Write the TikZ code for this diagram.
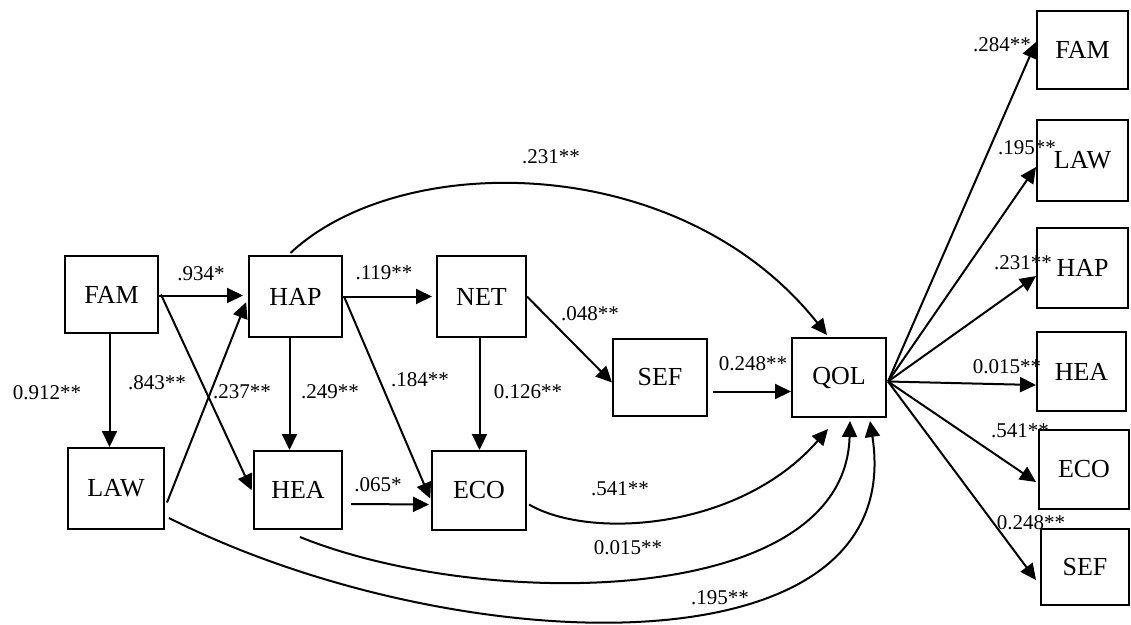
\documentclass[tikz,border=0pt]{standalone}
\usepackage{fontspec}
\setmainfont{Liberation Serif}
\usetikzlibrary{arrows.meta,calc}
\begin{document}
\begin{tikzpicture}[x=1pt,y=-1pt,
  box/.style={draw,line width=2pt,rectangle,inner sep=0pt,font=\fontsize{26}{30}\selectfont},
  lab/.style={inner sep=0pt,font=\fontsize{21}{24}\selectfont},
  arr/.style={line width=2pt,-{Triangle[length=16pt,width=15pt]}}]
\useasboundingbox (0,0) rectangle (1131,624);
% left nodes
\node[box,minimum width=93pt,minimum height=77pt] (FAM) at (111.5,294.5) {FAM};
\node[box,minimum width=93pt,minimum height=81pt] (HAP) at (295.5,296.5) {HAP};
\node[box,minimum width=89pt,minimum height=81pt] (NET) at (481.5,296.5) {NET};
\node[box,minimum width=96pt,minimum height=81pt] (LAW) at (116,488.5) {LAW};
\node[box,minimum width=88pt,minimum height=78pt] (HEA) at (298,490) {HEA};
\node[box,minimum width=94pt,minimum height=79pt] (ECO) at (479,490.5) {ECO};
\node[box,minimum width=94pt,minimum height=77pt] (SEF) at (660,377.5) {SEF};
\node[box,minimum width=94pt,minimum height=79pt] (QOL) at (839,377.5) {QOL};
% right nodes
\node[box,minimum width=91pt,minimum height=78pt] (FAM2) at (1082.5,50) {FAM};
\node[box,minimum width=91pt,minimum height=81pt] (LAW2) at (1082.5,160.5) {LAW};
\node[box,minimum width=91pt,minimum height=80pt] (HAP2) at (1082.5,268) {HAP};
\node[box,minimum width=89pt,minimum height=79pt] (HEA2) at (1081.5,371.5) {HEA};
\node[box,minimum width=90pt,minimum height=79pt] (ECO2) at (1084,469.5) {ECO};
\node[box,minimum width=88pt,minimum height=76pt] (SEF2) at (1085,567) {SEF};
% straight arrows
\draw[arr,shorten >=5pt] ([yshift=-1pt]FAM.east) -- ([yshift=-1pt]FAM.east -| HAP.west);
\draw[arr] ([xshift=-2pt]FAM.south) -- ([xshift=-2pt]FAM.south |- LAW.north);
\draw[arr,shorten >=3pt] ([xshift=2pt]FAM.east) -- ([yshift=-3pt]HEA.west);
\draw[arr,shorten >=5pt] ([xshift=2pt,yshift=-14pt]LAW.east) -- ([yshift=-1pt]HAP.west);
\draw[arr] ([xshift=-6pt]HAP.south) -- ([xshift=-6pt]HAP.south |- HEA.north);
\draw[arr,shorten >=2pt] ([xshift=1pt]HAP.east) -- ([yshift=-10pt]ECO.west);
\draw[arr,shorten >=2pt] ([xshift=8pt,yshift=-14pt]HEA.east) -- ([yshift=-14pt]ECO.west);
\draw[arr,shorten >=4pt] (HAP.east) -- (NET.west);
\draw[arr] ([xshift=-2pt]NET.south) -- ([xshift=-2pt]NET.south |- ECO.north);
\draw[arr] (NET.east) -- ([yshift=-5pt]SEF.west);
\draw[arr] ([xshift=5pt,yshift=-14pt]SEF.east) -- ([yshift=-14pt]QOL.west);
% curved arrows to QOL
\coordinate (hapS) at ([xshift=-5pt,yshift=2pt]HAP.north);
\coordinate (qolT) at ([xshift=-12pt,yshift=2pt]QOL.north);
\draw[arr] (hapS) .. controls (400,150) and (680,150) .. (qolT);
\coordinate (ecoS) at ([xshift=2pt,yshift=-14pt]ECO.east);
\coordinate (qolB1) at ([xshift=-11pt,yshift=-11pt]QOL.south);
\draw[arr] (ecoS) .. controls (590,540) and (740,530) .. (qolB1);
\coordinate (heaS) at ([xshift=2pt,yshift=-7pt]HEA.south);
\coordinate (qolB2) at ([xshift=11pt,yshift=-3pt]QOL.south);
\draw[arr] (heaS) .. controls (480,610) and (845,610) .. (qolB2);
\coordinate (lawS) at ([xshift=4pt,yshift=-29.5pt]LAW.east);
\coordinate (qolB3) at ([xshift=31pt,yshift=-3pt]QOL.south);
\draw[arr] (lawS) .. controls (450,660) and (910,680) .. (qolB3);
% fan to right column
\coordinate (o) at ([xshift=1pt,yshift=-4pt]QOL.east);
\draw[arr] (o) -- ([yshift=8pt]FAM2.west);
\draw[arr] (o) -- ([yshift=-6.5pt]LAW2.west);
\draw[arr] (o) -- ([yshift=-8pt]HAP2.west);
\draw[arr] (o) -- ([yshift=-13.5pt]HEA2.west);
\draw[arr] (o) -- ([xshift=-2pt,yshift=-12.5pt]ECO2.west);
\draw[arr] (o) -- ([xshift=-4pt,yshift=-13pt]SEF2.west);
% labels
\node[lab] (l1) at (201,274) {.934*};
\node[lab] (l2) at (47,393) {0.912**};
\node[lab] (l3) at (157,383) {.843**};
\node[lab] (l4) at (242,392) {.237**};
\node[lab] (l5) at (330,392) {.249**};
\node[lab] (l6) at (420,380) {.184**};
\node[lab] (l7) at (384,273) {.119**};
\node[lab] (l8) at (528,392) {0.126**};
\node[lab] (l9) at (590,314) {.048**};
\node[lab] (l10) at (753,364) {0.248**};
\node[lab] (l11) at (378,485) {.065*};
\node[lab] (l12) at (551,157) {.231**};
\node[lab] (l13) at (620,489) {.541**};
\node[lab] (l14) at (628,548) {0.015**};
\node[lab] (l15) at (720,598) {.195**};
\node[lab] (r1) at (1002,45) {.284**};
\node[lab] (r2) at (1027,148) {.195**};
\node[lab] (r3) at (1023,263) {.231**};
\node[lab] (r4) at (1007,367) {0.015**};
\node[lab] (r5) at (1020,431) {.541**};
\node[lab] (r6) at (1031,523) {0.248**};
\end{tikzpicture}
\end{document}
